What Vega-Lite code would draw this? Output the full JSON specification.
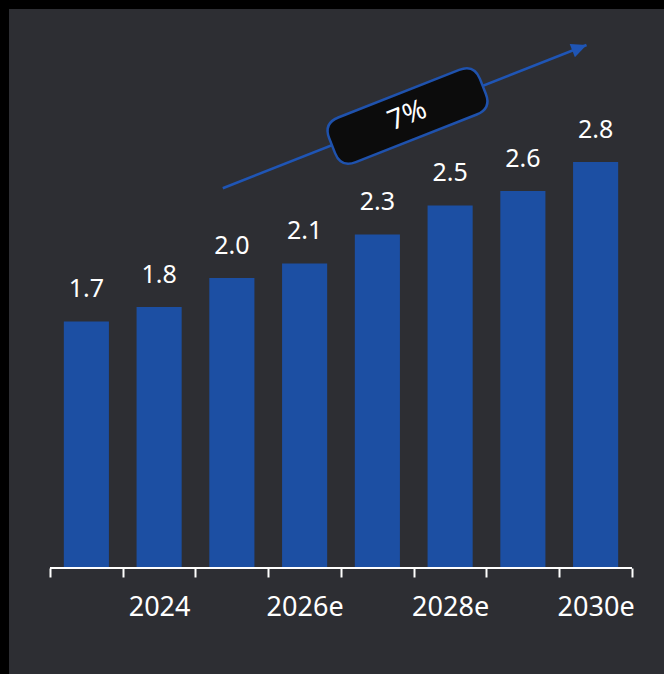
{
  "$schema": "https://vega.github.io/schema/vega-lite/v6.json",
  "width": 655,
  "height": 665,
  "autosize": {"type": "none"},
  "padding": {"left": 9, "top": 9, "right": 0, "bottom": 0},
  "background": "#000000",
  "config": {
    "view": {"fill": "#2d2e33", "stroke": null, "cornerRadius": 0},
    "font": "Noto Sans"
  },
  "datasets": {
    "bars": [
      {"year": "2023", "value": 1.7},
      {"year": "2024", "value": 1.8},
      {"year": "2025e", "value": 2.0},
      {"year": "2026e", "value": 2.1},
      {"year": "2027e", "value": 2.3},
      {"year": "2028e", "value": 2.5},
      {"year": "2029e", "value": 2.6},
      {"year": "2030e", "value": 2.8}
    ],
    "baseline": [{"from": "2023", "to": "2030e", "y": 0}],
    "arrow": [
      {"year": "2025e", "y": 2.619},
      {"year": "2030e", "y": 3.607}
    ],
    "head": [{"year": "2030e", "y": 3.607}],
    "pill": [{"year": "2027e", "y": 3.117, "label": "7%"}]
  },
  "layer": [
    {
      "data": {"name": "bars"},
      "mark": {"type": "bar", "color": "#1c4fa3", "width": {"band": 0.62}},
      "encoding": {
        "x": {
          "field": "year",
          "type": "ordinal",
          "sort": null,
          "scale": {
            "domain": ["2023", "2024", "2025e", "2026e", "2027e", "2028e", "2029e", "2030e"],
            "paddingInner": 0,
            "paddingOuter": 0.5017,
            "align": 0.5616
          },
          "axis": {
            "title": null,
            "orient": "bottom",
            "offset": -106,
            "domain": false,
            "grid": false,
            "tickBand": "extent",
            "tickSize": 9,
            "tickWidth": 2,
            "tickColor": "#ffffff",
            "labelColor": "#ffffff",
            "labelFont": "Noto Sans",
            "labelFontSize": 27,
            "labelPadding": 17,
            "labelAngle": 0,
            "labelExpr": "indexof(['2024','2026e','2028e','2030e'], datum.value) >= 0 ? datum.label : ''"
          }
        },
        "y": {
          "field": "value",
          "type": "quantitative",
          "scale": {"domain": [-0.731, 3.855], "nice": false, "zero": false},
          "axis": null
        }
      }
    },
    {
      "data": {"name": "bars"},
      "mark": {"type": "text", "color": "#ffffff", "fontSize": 25, "baseline": "alphabetic", "dy": -24, "font": "Noto Sans"},
      "encoding": {
        "x": {"field": "year", "type": "ordinal"},
        "y": {"field": "value", "type": "quantitative"},
        "text": {"field": "value", "type": "quantitative", "format": ".1f"}
      }
    },
    {
      "data": {"name": "baseline"},
      "mark": {"type": "rule", "color": "#ffffff", "strokeWidth": 2},
      "encoding": {
        "x": {"field": "from", "type": "ordinal", "bandPosition": 0},
        "x2": {"field": "to", "bandPosition": 1},
        "y": {"field": "y", "type": "quantitative"}
      }
    },
    {
      "data": {"name": "arrow"},
      "mark": {"type": "line", "color": "#1f55b5", "strokeWidth": 2.5, "strokeCap": "butt"},
      "encoding": {
        "x": {"field": "year", "type": "ordinal", "bandPosition": 0.375},
        "y": {"field": "y", "type": "quantitative"}
      }
    },
    {
      "data": {"name": "head"},
      "mark": {"type": "point", "shape": "M0,0 L0.93,2 L-0.93,2 Z", "size": 234, "angle": 68.5, "filled": true, "opacity": 1, "color": "#1f55b5", "strokeWidth": 0},
      "encoding": {
        "x": {"field": "year", "type": "ordinal", "bandPosition": 0.375},
        "y": {"field": "y", "type": "quantitative"}
      }
    },
    {
      "data": {"name": "pill"},
      "mark": {
        "type": "point",
        "shape": "M-0.8025,-0.296 L0.8025,-0.296 Q1,-0.296 1,-0.0985 L1,0.0985 Q1,0.296 0.8025,0.296 L-0.8025,0.296 Q-1,0.296 -1,0.0985 L-1,-0.0985 Q-1,-0.296 -0.8025,-0.296 Z",
        "size": 26244,
        "angle": -21.5,
        "filled": true,
        "opacity": 1,
        "fill": "#0c0c0c",
        "stroke": "#1f52ad",
        "strokeWidth": 2.5
      },
      "encoding": {
        "x": {"field": "year", "type": "ordinal", "bandPosition": 0.914},
        "y": {"field": "y", "type": "quantitative"}
      }
    },
    {
      "data": {"name": "pill"},
      "mark": {"type": "text", "color": "#ffffff", "fontSize": 28, "angle": -21.5, "align": "center", "baseline": "middle", "font": "Noto Sans"},
      "encoding": {
        "x": {"field": "year", "type": "ordinal", "bandPosition": 0.914},
        "y": {"field": "y", "type": "quantitative"},
        "text": {"field": "label"}
      }
    }
  ]
}
